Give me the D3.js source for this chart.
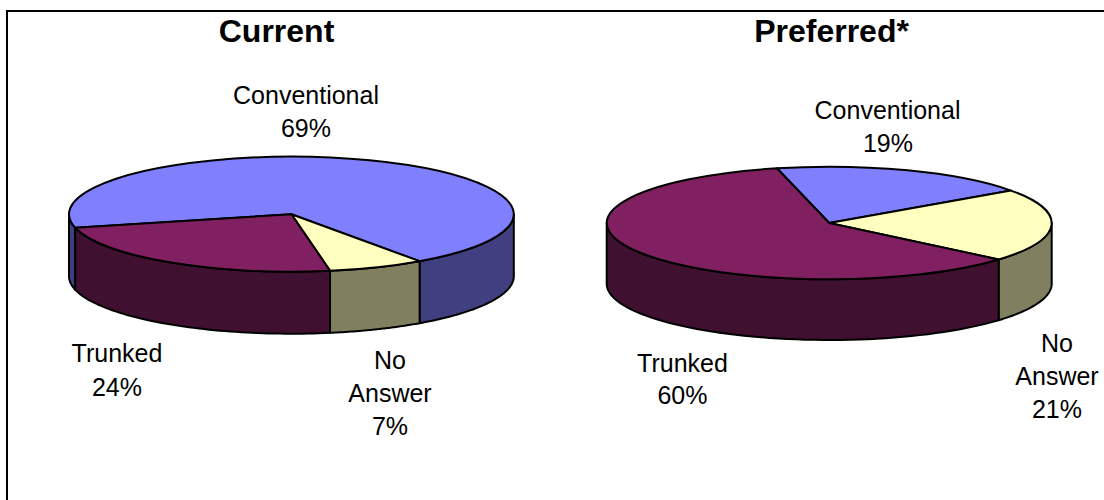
<!DOCTYPE html>
<html><head><meta charset="utf-8">
<style>html,body{margin:0;padding:0;background:#fff;overflow:hidden}svg{display:block}text{font-family:"Liberation Sans",Arial,sans-serif;fill:#000}</style>
<script src="https://cdnjs.cloudflare.com/ajax/libs/d3/7.8.5/d3.min.js"></script>
</head><body><svg id="c" width="1104" height="500"></svg>
<script>
const categories = ["Conventional", "No Answer", "Trunked"];
const currentValues = [69, 7, 24];
const preferredValues = [19, 21, 60];
const titles = ["Current", "Preferred*"];

const topColors = {"Conventional":"#8080ff","No Answer":"#ffffc0","Trunked":"#802060"};
const wallColors = {"Conventional":"#404080","No Answer":"#808060","Trunked":"#401030"};

const svg = d3.select("#c");
svg.append("rect").attr("x",7).attr("y",11).attr("width",1200).attr("height",600)
   .attr("fill","#fff").attr("stroke","#000").attr("stroke-width",2);

const rad = d => d*Math.PI/180;
const layouts = [
 {values:currentValues,title:titles[0],titleX:276.5,cx:291.4,cy:214.2,rx:222.4,ry:57.5,depth:62,start:256.4,
  labels:[["Conventional",306,103.5],["69%",306,136.5],["Trunked",117,361.5],["24%",117,396],["No",390,369],["Answer",390,402],["7%",390,435]]},
 {values:preferredValues,title:titles[1],titleX:831.5,cx:829.2,cy:223,rx:222.5,ry:56.3,depth:60.7,start:346.4,
  labels:[["Conventional",887.5,119],["19%",888,151.5],["Trunked",682.5,372],["60%",682.5,404],["No",1057,352],["Answer",1057,385],["21%",1057,418]]}
];

layouts.forEach(L=>{
  const g = svg.append("g");
  const data = categories.map((c,i)=>({c,v:L.values[i]}));
  const arcs = d3.pie().value(d=>d.v).sort(null)
     .startAngle(rad(L.start)).endAngle(rad(L.start+360))(data);
  const sx = d3.scaleLinear([-1,1],[L.cx-L.rx,L.cx+L.rx]);
  const sy = d3.scaleLinear([-1,1],[L.cy-L.ry,L.cy+L.ry]);
  const lo = Math.PI/2, hi = 3*Math.PI/2, tau = 2*Math.PI;
  const line = d3.line().x(d=>d[0]).y(d=>d[1]);

  // walls: the part of every slice on the front half of the rim
  arcs.forEach(a=>{
    [0,tau,-tau].forEach(k=>{
      const a0=Math.max(a.startAngle+k,lo), a1=Math.min(a.endAngle+k,hi);
      if(a1<=a0) return;
      const n=60, pts=[];
      for(let i=0;i<=n;i++){const t=a0+(a1-a0)*i/n;pts.push([sx(Math.sin(t)),sy(-Math.cos(t))]);}
      const bottom=pts.slice().reverse().map(p=>[p[0],p[1]+L.depth]);
      g.append("path").attr("d",line(pts.concat(bottom))+"Z")
       .attr("fill",wallColors[a.data.c]).attr("stroke","#000").attr("stroke-width",2).attr("stroke-linejoin","round");
    });
  });
  // top surface
  const arc = d3.arc().innerRadius(0).outerRadius(1);
  const top = g.append("g").attr("transform",`translate(${L.cx},${L.cy}) scale(${L.rx},${L.ry})`);
  top.selectAll("path").data(arcs).join("path")
     .attr("d",arc).attr("fill",d=>topColors[d.data.c])
     .attr("stroke","#000").attr("stroke-width",2).attr("stroke-linejoin","round")
     .attr("vector-effect","non-scaling-stroke");

  svg.append("text").attr("x",L.titleX).attr("y",42).attr("text-anchor","middle")
     .attr("font-size",32).attr("font-weight","bold").text(L.title);
  svg.selectAll(null).data(L.labels).join("text")
     .attr("x",d=>d[1]).attr("y",d=>d[2]).attr("text-anchor","middle").attr("font-size",25).text(d=>d[0]);
});
</script></body></html>
